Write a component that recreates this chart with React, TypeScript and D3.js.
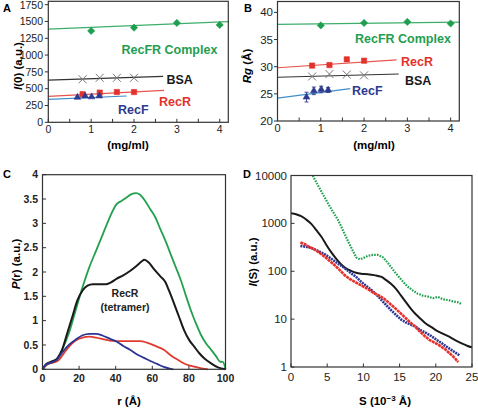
import React from "react";
import * as d3 from "d3";

const FONT = "'Liberation Sans', Arial, Helvetica, sans-serif";

// ---------- Panel A : I(0) vs concentration ----------
const aComplexX = [1, 2, 3, 4];
const aComplexY = [1360, 1408, 1478, 1448];
const aBSAX = [0.8, 1.2, 1.6, 2.0];
const aBSAY = [640, 662, 662, 662];
const aRecRX = [0.8, 1.2, 1.6, 2.0];
const aRecRY = [418, 442, 450, 450];
const aRecFX = [0.68, 0.86, 1.01, 1.19];
const aRecFY = [372, 390, 378, 392];
const aFitComplex = [[0, 1385], [4.2, 1498]];
const aFitBSA = [[0, 628], [2.68, 684]];
const aFitRecR = [[0, 387], [2.7, 476]];
const aFitRecF = [[0, 342], [1.83, 391]];
const aYTicks = [0, 250, 500, 750, 1000, 1250, 1500, 1750];
const aXTicks = [0, 1, 2, 3, 4];

// ---------- Panel B : Rg vs concentration ----------
const bComplexX = [1, 2, 3, 4];
const bComplexY = [37.6, 38.05, 38.25, 37.95];
const bBSAX = [0.8, 1.2, 1.6, 2.0];
const bBSAY = [28.2, 28.65, 28.55, 28.4];
const bRecRX = [0.8, 1.2, 1.6, 2.0];
const bRecRY = [30.2, 30.3, 31.35, 31.1];
const bRecFX = [0.67, 0.84, 1.01, 1.17];
const bRecFY = [24.4, 25.55, 25.8, 25.7];
const bRecFErr = [0.9, 0.7, 0.6, 0.45];
const bFitComplex = [[0, 37.8], [4.2, 38.2]];
const bFitRecR = [[0, 29.8], [2.75, 31.25]];
const bFitBSA = [[0, 28.05], [2.8, 28.65]];
const bFitRecF = [[0, 24.2], [1.68, 25.95]];
const bYTicks = [20, 25, 30, 35, 40];
const bXTicks = [0, 1, 2, 3, 4];

// ---------- Panel C : P(r) ----------
const cGreenR = [0, 2.4, 5.2, 8, 10.7, 14.4, 18.1, 21.9, 25.6, 29.3, 33, 36.7, 40.4, 43.1, 45.9, 48.7, 51.1, 53.3, 56.1, 58.9, 61.7, 64.4, 67.2, 70, 72.8, 75.6, 78.3, 81.1, 83.9, 86.7, 89.4, 92.2, 95, 96.9, 98.7, 100];
const cGreenP = [0, 0.09, 0.16, 0.22, 0.4, 0.74, 1.21, 1.69, 2.1, 2.44, 2.78, 3.12, 3.39, 3.46, 3.53, 3.6, 3.62, 3.59, 3.46, 3.29, 3.12, 2.88, 2.64, 2.37, 2.1, 1.83, 1.52, 1.21, 0.94, 0.7, 0.53, 0.4, 0.26, 0.16, 0.15, 0];
const cBlackR = [0, 2.4, 5.2, 8, 10.7, 13.5, 16.3, 19.1, 21.9, 24.6, 27.4, 31.1, 34.8, 37.6, 40.4, 44.1, 47.8, 51.5, 54.3, 55.6, 57.9, 60.7, 64.4, 67.2, 69.1, 71.9, 74.6, 77.4, 80.2, 83, 85.7, 88.5, 92.2, 95.9, 100];
const cBlackP = [0, 0.12, 0.16, 0.22, 0.4, 0.74, 1.08, 1.42, 1.62, 1.72, 1.75, 1.75, 1.75, 1.79, 1.86, 1.93, 2.02, 2.13, 2.22, 2.25, 2.2, 2.07, 1.91, 1.79, 1.62, 1.35, 1.08, 0.8, 0.6, 0.46, 0.33, 0.22, 0.12, 0.04, 0];
const cRedR = [0, 2.4, 6.1, 8.9, 11.7, 14.4, 18.1, 21.9, 25.6, 29.3, 33, 36.7, 40.4, 45.9, 53.3, 57, 61.7, 66.3, 70, 73.7, 77.4, 81.1, 85.7, 90.4];
const cRedP = [0, 0.1, 0.14, 0.19, 0.33, 0.46, 0.59, 0.65, 0.67, 0.65, 0.62, 0.59, 0.58, 0.58, 0.58, 0.55, 0.48, 0.4, 0.29, 0.2, 0.12, 0.07, 0.03, 0];
const cBlueR = [0, 1.5, 5.2, 8, 10.7, 14.4, 18.1, 21.9, 25.6, 29.3, 33, 36.7, 40.4, 44.1, 47.8, 51.5, 55.2, 58.9, 62.6, 66.3, 70, 71.5];
const cBlueP = [0, 0.09, 0.14, 0.2, 0.34, 0.5, 0.61, 0.7, 0.73, 0.73, 0.69, 0.63, 0.57, 0.48, 0.4, 0.31, 0.24, 0.17, 0.11, 0.05, 0.01, 0];
const cYTicks = [0, 0.5, 1, 1.5, 2, 2.5, 3, 3.5, 4];
const cXTicks = [0, 20, 40, 60, 80, 100];

// ---------- Panel D : I(S) ----------
const dGreenS = [3.0, 3.7, 4.4, 5.1, 5.8, 6.5, 7.1, 7.8, 8.5, 9.0, 9.5, 9.9, 10.6, 11.3, 12.0, 12.7, 13.4, 14.1, 14.8, 15.5, 16.1, 16.8, 17.5, 18.2, 18.9, 19.6, 20.3, 21.0, 21.7, 22.4, 23.1, 23.6];
const dGreenI = [10000, 6310, 4074, 2630, 1738, 1175, 759, 447, 275, 195, 178, 186, 209, 219, 219, 195, 148, 107, 79, 60, 48, 40, 34, 31, 29.5, 27.5, 29, 26, 25, 23.4, 22.4, 20.4];
const dBlackS = [0, 0.7, 1.4, 2.1, 2.8, 3.5, 4.2, 4.8, 5.5, 6.2, 6.9, 7.6, 8.3, 9.0, 9.7, 10.6, 11.5, 12.5, 13.1, 13.8, 14.5, 15.2, 15.9, 16.6, 17.3, 18.0, 18.7, 19.4, 20.1, 20.8, 21.7, 22.6, 23.5, 24.4, 25.0];
const dBlackI = [1622, 1549, 1413, 1202, 977, 724, 525, 372, 257, 186, 141, 115, 102, 93, 89, 87, 83, 76, 66, 55, 43, 31, 22.4, 16.2, 12.3, 9.8, 7.9, 6.8, 5.75, 5.1, 4.4, 3.7, 3.16, 2.75, 2.57];
const dRedS = [1.3, 1.85, 2.5, 3.2, 3.9, 4.6, 5.3, 6.0, 6.7, 7.4, 8.1, 8.8, 9.5, 10.1, 10.8, 11.5, 12.2, 12.9, 13.6, 14.3, 15.0, 15.7, 16.4, 17.1, 17.8, 18.5, 19.1, 19.8, 20.5, 21.2, 21.9, 22.6, 23.1];
const dRedI = [398, 372, 324, 288, 245, 204, 166, 135, 107, 83, 69, 60, 52.5, 46.8, 40.7, 34.7, 30.9, 26.3, 21.4, 17.4, 13.8, 11, 8.7, 7.1, 5.5, 4.4, 3.7, 3.24, 2.82, 2.4, 1.95, 1.55, 1.26];
const dBlueS = [1.3, 2.1, 2.8, 3.5, 4.2, 4.8, 5.5, 6.2, 6.9, 7.6, 8.3, 9.0, 9.7, 10.4, 11.1, 11.8, 12.5, 13.1, 13.8, 14.5, 15.2, 15.9, 16.6, 17.3, 18.0, 18.7, 19.4, 20.1, 20.8, 21.4, 22.1, 22.8, 23.3];
const dBlueI = [339, 324, 309, 275, 245, 219, 186, 155, 132, 110, 91, 76, 60, 49, 40.7, 32.4, 25.1, 20, 15.5, 12.3, 9.8, 8.5, 7.6, 6.8, 5.75, 5.1, 4.4, 3.7, 3.16, 2.7, 2.3, 1.95, 1.74];
const dYTicks = [1, 10, 100, 1000, 10000];
const dXTicks = [0, 5, 10, 15, 20, 25];

// colours
const GREEN = "#1f9e50";
const GREEN_L = "#3cae6a";
const RED = "#e3322b";
const RED_L = "#e8544c";
const BLUE = "#2e3a8f";
const BLUE_L = "#3f8fcc";
const BLACK = "#1a1a1a";

// scales
const aX = d3.scaleLinear().domain([0, 4.2]).range([48.3, 228.3]);
const aY = d3.scaleLinear().domain([0, 1800]).range([122.3, 1.3]);
const bX = d3.scaleLinear().domain([0, 4.2]).range([277.5, 459.3]);
const bY = d3.scaleLinear().domain([20, 42]).range([121, 1.5]);
const cX = d3.scaleLinear().domain([0, 100]).range([42.5, 225.5]);
const cY = d3.scaleLinear().domain([0, 4]).range([369.3, 174.7]);
const dX = d3.scaleLinear().domain([0, 25]).range([291, 472]);
const dY = d3.scaleLog().domain([1, 10000]).range([367, 175.5]);

type Sc = (v: number) => number;

function Frame({ x, y }: { x: any; y: any }) {
  const [x0, x1] = x.range();
  const [y0, y1] = y.range();
  return (
    <rect x={x0} y={y1} width={x1 - x0} height={y0 - y1} fill="none" stroke="#333" strokeWidth={1.2} />
  );
}

function FitLine({ pts, x, y, color, w = 1.2 }: { pts: number[][]; x: Sc; y: Sc; color: string; w?: number }) {
  const line = d3.line<number[]>().x((d) => x(d[0])).y((d) => y(d[1]));
  return <path d={line(pts) || ""} fill="none" stroke={color} strokeWidth={w} />;
}

function Curve({ xs, ys, x, y, color, w = 1.8, dash, curve = d3.curveMonotoneX }: any) {
  const pts = xs.map((v: number, i: number) => [v, ys[i]]);
  const line = d3.line<number[]>().x((d) => x(d[0])).y((d) => y(d[1])).curve(curve);
  return <path d={line(pts) || ""} fill="none" stroke={color} strokeWidth={w} strokeDasharray={dash} strokeLinejoin="round" />;
}

function Symbols({ xs, ys, x, y, type, size, color, rotate = 0 }: any) {
  const gen = d3.symbol().type(type).size(size);
  return (
    <g>
      {xs.map((v: number, i: number) => (
        <path key={i} d={gen() || ""} transform={`translate(${x(v)},${y(ys[i])}) rotate(${rotate})`} fill={color} stroke={color} strokeWidth={0.6} strokeLinejoin="round" />
      ))}
    </g>
  );
}

function Crosses({ xs, ys, x, y, color }: any) {
  return (
    <g stroke={color} strokeWidth={1} fill="none">
      {xs.map((v: number, i: number) => {
        const cx = x(v), cy = y(ys[i]), r = 4;
        return (
          <g key={i}>
            <line x1={cx - r} y1={cy - r} x2={cx + r} y2={cy + r} />
            <line x1={cx - r} y1={cy + r} x2={cx + r} y2={cy - r} />
          </g>
        );
      })}
    </g>
  );
}

function XTicks({ ticks, x, y, minor, labelY, size = 11, bold = false, fmt = (v: number) => String(v) }: any) {
  const y0 = y.range()[0];
  return (
    <g>
      {(minor || ticks).map((t: number, i: number) => (
        <line key={"m" + i} x1={x(t)} x2={x(t)} y1={y0} y2={y0 - 3.5} stroke="#333" strokeWidth={1} />
      ))}
      {ticks.map((t: number, i: number) => (
        <text key={i} x={x(t)} y={labelY} textAnchor="middle" fontSize={size} fontWeight={bold ? "bold" : "normal"} fill="#222">
          {fmt(t)}
        </text>
      ))}
    </g>
  );
}

function YTicks({ ticks, x, y, labelX, size = 11, bold = false, outward = false, fmt = (v: number) => String(v) }: any) {
  const x0 = x.range()[0];
  return (
    <g>
      {ticks.map((t: number, i: number) => (
        <g key={i}>
          <line x1={x0} x2={outward ? x0 - 3.5 : x0 + 3.5} y1={y(t)} y2={y(t)} stroke="#333" strokeWidth={1} />
          <text x={labelX} y={Math.max(y(t), 5.5)} dy="0.35em" textAnchor="end" fontSize={size} fontWeight={bold ? "bold" : "normal"} fill="#222">
            {fmt(t)}
          </text>
        </g>
      ))}
    </g>
  );
}

export default function App() {
  const halfA = d3.range(0, 4.01, 0.5);
  return (
    <svg width={478} height={408} style={{ position: "absolute", left: 0, top: 0, background: "#fff" }} fontFamily={FONT}>
      <rect width={478} height={408} fill="#fff" />

      {/* ===== Panel A ===== */}
      <text x={3} y={12} fontSize={11} fontWeight="bold">A</text>
      <FitLine pts={aFitComplex} x={aX} y={aY} color={GREEN_L} />
      <FitLine pts={aFitBSA} x={aX} y={aY} color="#333" />
      <FitLine pts={aFitRecR} x={aX} y={aY} color={RED_L} />
      <FitLine pts={aFitRecF} x={aX} y={aY} color={BLUE_L} />
      <Symbols xs={aComplexX} ys={aComplexY} x={aX} y={aY} type={d3.symbolSquare} size={26} rotate={45} color={GREEN} />
      <Crosses xs={aBSAX} ys={aBSAY} x={aX} y={aY} color="#777" />
      <Symbols xs={aRecRX} ys={aRecRY} x={aX} y={aY} type={d3.symbolSquare} size={28} color={RED} />
      <Symbols xs={aRecFX} ys={aRecFY} x={aX} y={aY} type={d3.symbolTriangle} size={20} color={BLUE} />
      <Frame x={aX} y={aY} />
      <XTicks ticks={aXTicks} minor={halfA} x={aX} y={aY} labelY={133} size={10.5} />
      <YTicks ticks={aYTicks} x={aX} y={aY} labelX={43} size={10.5} outward />
      <text x={128} y={149} textAnchor="middle" fontSize={11.5} fontWeight="bold">(mg/ml)</text>
      <text transform="translate(22,66) rotate(-90)" textAnchor="middle" fontSize={11.5} fontWeight="bold">
        <tspan fontStyle="italic">I</tspan>(0) (a.u.)
      </text>
      <text x={121.5} y={53.5} fontSize={12.5} fontWeight="bold" fill={GREEN}>RecFR Complex</text>
      <text x={166.5} y={83.8} fontSize={12.5} fontWeight="bold" fill={BLACK}>BSA</text>
      <text x={159} y={106} fontSize={12.5} fontWeight="bold" fill={RED}>RecR</text>
      <text x={118} y={113.6} fontSize={12.5} fontWeight="bold" fill={BLUE}>RecF</text>

      {/* ===== Panel B ===== */}
      <text x={244} y={12} fontSize={11} fontWeight="bold">B</text>
      <FitLine pts={bFitComplex} x={bX} y={bY} color={GREEN_L} />
      <FitLine pts={bFitRecR} x={bX} y={bY} color={RED_L} />
      <FitLine pts={bFitBSA} x={bX} y={bY} color="#333" />
      <FitLine pts={bFitRecF} x={bX} y={bY} color={BLUE_L} />
      <Symbols xs={bComplexX} ys={bComplexY} x={bX} y={bY} type={d3.symbolSquare} size={26} rotate={45} color={GREEN} />
      <Crosses xs={bBSAX} ys={bBSAY} x={bX} y={bY} color="#777" />
      <Symbols xs={bRecRX} ys={bRecRY} x={bX} y={bY} type={d3.symbolSquare} size={28} color={RED} />
      <g stroke={BLUE} strokeWidth={0.9}>
        {bRecFX.map((v, i) => {
          const cx = bX(v), lo = bY(bRecFY[i] - bRecFErr[i]), hi = bY(bRecFY[i] + bRecFErr[i]);
          return (
            <g key={i}>
              <line x1={cx} x2={cx} y1={lo} y2={hi} />
              <line x1={cx - 2} x2={cx + 2} y1={lo} y2={lo} />
              <line x1={cx - 2} x2={cx + 2} y1={hi} y2={hi} />
            </g>
          );
        })}
      </g>
      <Symbols xs={bRecFX} ys={bRecFY} x={bX} y={bY} type={d3.symbolTriangle} size={20} color={BLUE} />
      <Frame x={bX} y={bY} />
      <XTicks ticks={bXTicks} minor={halfA} x={bX} y={bY} labelY={132} size={11} />
      <YTicks ticks={bYTicks} x={bX} y={bY} labelX={273} size={11.5} outward />
      <text x={374} y={149} textAnchor="middle" fontSize={11.5} fontWeight="bold">(mg/ml)</text>
      <text transform="translate(251,66) rotate(-90)" textAnchor="middle" fontSize={11.5} fontWeight="bold">
        <tspan fontStyle="italic">Rg</tspan> (Å)
      </text>
      <text x={355} y={42.5} fontSize={12.5} fontWeight="bold" fill={GREEN}>RecFR Complex</text>
      <text x={401} y={65.5} fontSize={12.5} fontWeight="bold" fill={RED}>RecR</text>
      <text x={405} y={84.5} fontSize={12.5} fontWeight="bold" fill={BLACK}>BSA</text>
      <text x={352} y={94.5} fontSize={12.5} fontWeight="bold" fill={BLUE}>RecF</text>

      {/* ===== Panel C ===== */}
      <text x={3} y={178} fontSize={11} fontWeight="bold">C</text>
      <Curve xs={cGreenR} ys={cGreenP} x={cX} y={cY} color="#23a04f" />
      <Curve xs={cBlackR} ys={cBlackP} x={cX} y={cY} color={BLACK} w={2} />
      <Curve xs={cRedR} ys={cRedP} x={cX} y={cY} color="#e23a2e" />
      <Curve xs={cBlueR} ys={cBlueP} x={cX} y={cY} color="#2b3593" />
      <Frame x={cX} y={cY} />
      <XTicks ticks={cXTicks} x={cX} y={cY} labelY={382} size={10.5} bold />
      <YTicks ticks={cYTicks} x={cX} y={cY} labelX={38} size={10.5} bold />
      <text x={129} y={405} textAnchor="middle" fontSize={11.5} fontWeight="bold">r (Å)</text>
      <text transform="translate(20,264) rotate(-90)" textAnchor="middle" fontSize={11.5} fontWeight="bold">
        <tspan fontStyle="italic">P</tspan>(r) (a.u.)
      </text>
      <text x={125} y={296.5} textAnchor="middle" fontSize={10.5} fontWeight="bold" fill="#222">RecR</text>
      <text x={125} y={310.5} textAnchor="middle" fontSize={10.5} fontWeight="bold" fill="#222">(tetramer)</text>

      {/* ===== Panel D ===== */}
      <text x={243} y={178} fontSize={11} fontWeight="bold">D</text>
      <g clipPath="url(#clipD)">
        <Curve xs={dGreenS} ys={dGreenI} x={dX} y={dY} color="#23a04f" w={2.2} dash="1.6,1.2" curve={d3.curveLinear} />
        <Curve xs={dBlackS} ys={dBlackI} x={dX} y={dY} color={BLACK} w={2} />
        <Curve xs={dBlueS} ys={dBlueI} x={dX} y={dY} color="#2b3593" w={2.6} dash="2,0.8" curve={d3.curveLinear} />
        <Curve xs={dRedS} ys={dRedI} x={dX} y={dY} color="#e8302a" w={2.6} dash="3,0.6" curve={d3.curveLinear} />
      </g>
      <defs>
        <clipPath id="clipD">
          <rect x={291} y={175.5} width={181} height={191.5} />
        </clipPath>
      </defs>
      <Frame x={dX} y={dY} />
      <XTicks ticks={dXTicks} x={dX} y={dY} labelY={381} size={11.5} />
      <YTicks ticks={dYTicks} x={dX} y={dY} labelX={287} size={11.5} />
      <text x={385} y={405} textAnchor="middle" fontSize={11.5} fontWeight="bold">
        S (10<tspan fontSize={8} dy={-4}>−3</tspan><tspan dy={4}> Å)</tspan>
      </text>
      <text transform="translate(257,262) rotate(-90)" textAnchor="middle" fontSize={11.5} fontWeight="bold">
        <tspan fontStyle="italic">I</tspan>(S) (a.u.)
      </text>
    </svg>
  );
}
